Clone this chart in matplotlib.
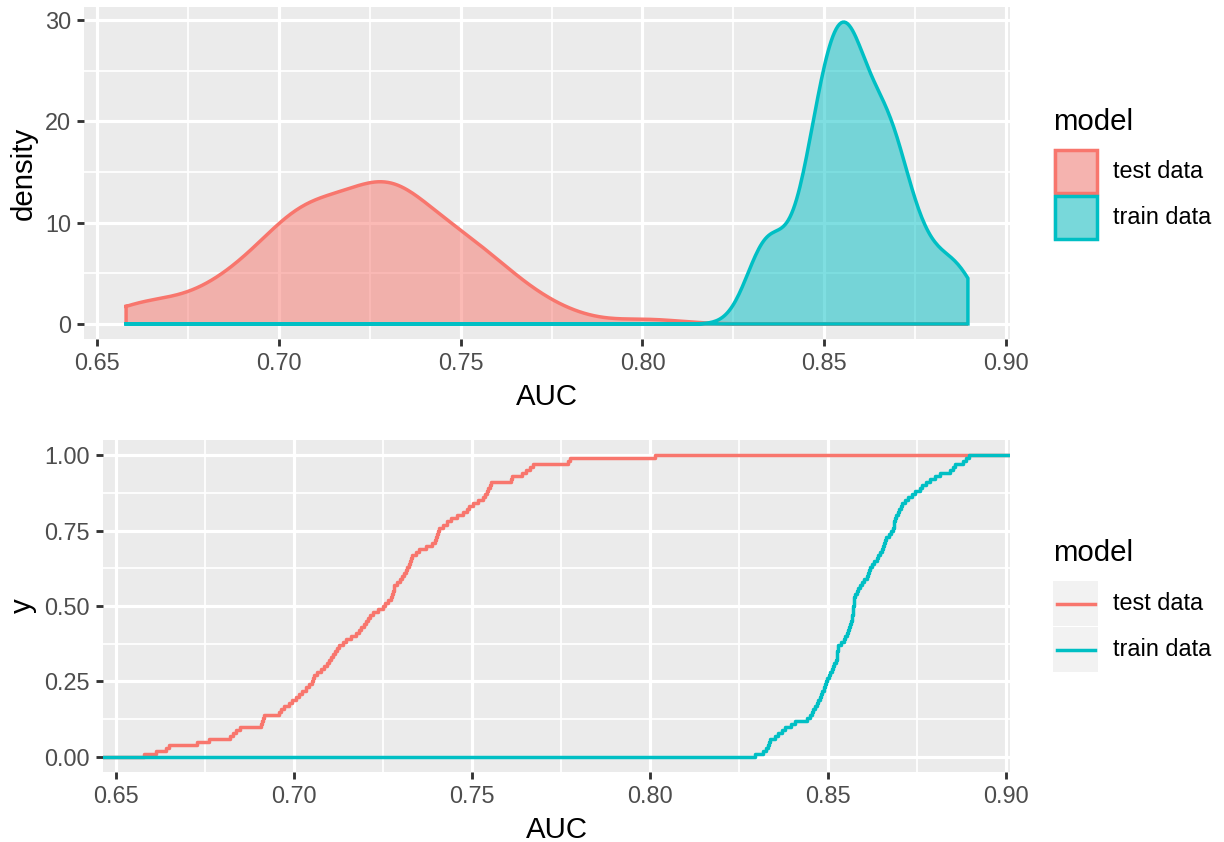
import numpy as np
import matplotlib
matplotlib.use("Agg")
import matplotlib.pyplot as plt
from matplotlib.patches import Rectangle
from matplotlib.lines import Line2D

# ---------------- data (AUC samples) ----------------
model_levels = ["test data", "train data"]
test_auc = [
    0.6580, 0.6612, 0.6640, 0.6649, 0.6729, 0.6762, 0.6822, 0.6830, 0.6837, 0.6850,
    0.6907, 0.6910, 0.6913, 0.6916, 0.6958, 0.6965, 0.6972, 0.6987, 0.6995, 0.7005,
    0.7015, 0.7024, 0.7034, 0.7043, 0.7050, 0.7054, 0.7057, 0.7066, 0.7076, 0.7085,
    0.7092, 0.7099, 0.7105, 0.7111, 0.7117, 0.7122, 0.7127, 0.7137, 0.7146, 0.7160,
    0.7174, 0.7182, 0.7190, 0.7197, 0.7203, 0.7209, 0.7215, 0.7221, 0.7235, 0.7249,
    0.7257, 0.7265, 0.7273, 0.7276, 0.7278, 0.7280, 0.7282, 0.7290, 0.7297, 0.7305,
    0.7310, 0.7314, 0.7318, 0.7322, 0.7326, 0.7330, 0.7333, 0.7343, 0.7352, 0.7370,
    0.7389, 0.7395, 0.7398, 0.7401, 0.7405, 0.7408, 0.7420, 0.7430, 0.7441, 0.7458,
    0.7474, 0.7485, 0.7493, 0.7502, 0.7516, 0.7530, 0.7538, 0.7542, 0.7546, 0.7550,
    0.7554, 0.7610, 0.7612, 0.7640, 0.7652, 0.7662, 0.7671, 0.7770, 0.7774, 0.8014,
]
train_auc = [
    0.8294, 0.8318, 0.8326, 0.8330, 0.8333, 0.8336, 0.8350, 0.8360, 0.8370, 0.8379,
    0.8395, 0.8407, 0.8440, 0.8449, 0.8455, 0.8459, 0.8463, 0.8468, 0.8472, 0.8477,
    0.8481, 0.8484, 0.8488, 0.8491, 0.8495, 0.8498, 0.8502, 0.8505, 0.8510, 0.8514,
    0.8518, 0.8521, 0.8524, 0.8525, 0.8526, 0.8527, 0.8528, 0.8535, 0.8545, 0.8548,
    0.8552, 0.8555, 0.8558, 0.8561, 0.8564, 0.8566, 0.8568, 0.8569, 0.8570, 0.8571,
    0.8572, 0.8573, 0.8574, 0.8575, 0.8580, 0.8585, 0.8589, 0.8595, 0.8602, 0.8608,
    0.8612, 0.8615, 0.8619, 0.8622, 0.8630, 0.8636, 0.8640, 0.8645, 0.8650, 0.8654,
    0.8658, 0.8661, 0.8664, 0.8671, 0.8678, 0.8681, 0.8684, 0.8686, 0.8688, 0.8692,
    0.8696, 0.8700, 0.8704, 0.8707, 0.8715, 0.8725, 0.8735, 0.8745, 0.8758, 0.8765,
    0.8775, 0.8786, 0.8800, 0.8814, 0.8843, 0.8850, 0.8857, 0.8880, 0.8887, 0.8895,
]
x_ticks = [0.65, 0.70, 0.75, 0.80, 0.85, 0.90]
x_ticklabels = ["0.65", "0.70", "0.75", "0.80", "0.85", "0.90"]
dens_ticks = [0, 10, 20, 30]
dens_ticklabels = ["0", "10", "20", "30"]
ecdf_ticks = [0.0, 0.25, 0.5, 0.75, 1.0]
ecdf_ticklabels = ["0.00", "0.25", "0.50", "0.75", "1.00"]

colors = ["#F8766D", "#00BFC4"]
samples = [np.array(test_auc), np.array(train_auc)]

# ---------------- helpers ----------------
W, H, DPI = 1224, 842, 192
plt.rcParams["font.family"] = ["Liberation Sans", "DejaVu Sans"]

def fx(px):
    return px / W

def fy(py):
    return 1 - py / H

def kde_nrd0(s, grid):
    n = len(s)
    sd = s.std(ddof=1)
    q75, q25 = np.percentile(s, [75, 25])
    lo = min(sd, (q75 - q25) / 1.34)
    bw = 0.9 * lo * n ** -0.2
    z = (grid[:, None] - s[None, :]) / bw
    return np.exp(-0.5 * z ** 2).sum(1) / (n * bw * np.sqrt(2 * np.pi))

LW = 1.07
DLW = 1.3
GRID_BG = "#EBEBEB"

def style_axes(ax, xt, xtl, yt, ytl):
    ax.set_facecolor(GRID_BG)
    for sp in ax.spines.values():
        sp.set_visible(False)
    ax.set_xticks(xt)
    ax.set_xticklabels(xtl)
    ax.set_yticks(yt)
    ax.set_yticklabels(ytl)
    xm = [(a + b) / 2 for a, b in zip(xt[:-1], xt[1:])]
    ym = [(a + b) / 2 for a, b in zip(yt[:-1], yt[1:])]
    ax.set_xticks(xm, minor=True)
    ax.set_yticks(ym, minor=True)
    ax.tick_params(which="major", length=2.75, width=LW, color="#333333",
                   labelcolor="#4D4D4D", labelsize=8.8, pad=2.2)
    ax.tick_params(which="minor", length=0)
    ax.grid(which="major", color="white", lw=LW * 1.1)
    ax.grid(which="minor", color="white", lw=LW * 0.6)
    ax.set_axisbelow(True)

fig = plt.figure(figsize=(W / DPI, H / DPI), dpi=DPI)

all_x = np.concatenate(samples)
xmin, xmax = all_x.min(), all_x.max()
xr = xmax - xmin
xlim = (xmin - 0.05 * xr, xmax + 0.05 * xr)

# ---------------- top: density ----------------
ax1 = fig.add_axes([fx(84), fy(339), (1010 - 84) / W, (339 - 7) / H])
grid = np.linspace(xmin, xmax, 512)
dens = [kde_nrd0(s, grid) for s in samples]
dmax = max(d.max() for d in dens)
for d, c in zip(dens, colors):
    px = np.concatenate([grid, grid[::-1], grid[:1]])
    py = np.concatenate([d, np.zeros_like(d), d[:1]])
    ax1.fill(px, py, color=c, alpha=0.5, lw=0)
    ax1.plot(px, py, color=c, lw=DLW, solid_joinstyle="miter")
style_axes(ax1, x_ticks, x_ticklabels, dens_ticks, dens_ticklabels)
ax1.set_xlim(*xlim)
ax1.set_ylim(-0.05 * dmax, 1.05 * dmax)
ax1.set_xlabel("AUC", fontsize=11, labelpad=2.75)
ax1.set_ylabel("density", fontsize=11, labelpad=2.75)

# ---------------- bottom: ECDF ----------------
ax2 = fig.add_axes([fx(103), fy(772), (1010 - 103) / W, (772 - 440) / H])
for s, c in zip(samples, colors):
    ss = np.sort(s)
    n = len(ss)
    ex = np.concatenate([[xlim[0]], ss, [xlim[1]]])
    ey = np.concatenate([[0.0], np.arange(1, n + 1) / n, [1.0]])
    ax2.step(ex, ey, where="post", color=c, lw=DLW)
style_axes(ax2, x_ticks, x_ticklabels, ecdf_ticks, ecdf_ticklabels)
ax2.set_xlim(*xlim)
ax2.set_ylim(-0.05, 1.05)
ax2.set_xlabel("AUC", fontsize=11, labelpad=2.75)
ax2.set_ylabel("y", fontsize=11, labelpad=2.75)

# ---------------- legends ----------------
def legend(top_title_y, key_top, kind):
    fig.text(fx(1053), fy(top_title_y), "model", fontsize=11, ha="left", va="center")
    ks = 45
    for i, (lab, c) in enumerate(zip(model_levels, colors)):
        y0 = key_top + i * (ks + 1)
        fig.add_artist(Rectangle((fx(1053), fy(y0 + ks)), ks / W, ks / H,
                                 transform=fig.transFigure, facecolor="#F2F2F2",
                                 edgecolor="none"))
        if kind == "fill":
            fig.add_artist(Rectangle((fx(1054.5), fy(y0 + ks - 1.5)), (ks - 3) / W, (ks - 3) / H,
                                     transform=fig.transFigure, facecolor=c, alpha=0.5,
                                     edgecolor="none"))
            fig.add_artist(Rectangle((fx(1054.5), fy(y0 + ks - 1.5)), (ks - 3) / W, (ks - 3) / H,
                                     transform=fig.transFigure, facecolor="none",
                                     edgecolor=c, lw=DLW))
        else:
            yc = y0 + ks / 2
            fig.add_artist(Line2D([fx(1057), fx(1095)], [fy(yc), fy(yc)],
                                  transform=fig.transFigure, color=c, lw=DLW))
        fig.text(fx(1113), fy(y0 + ks / 2), lab, fontsize=8.8, ha="left", va="center")

legend(122, 149, "fill")
legend(553, 581, "line")

fig.savefig("out.png", dpi=DPI, facecolor="white")
